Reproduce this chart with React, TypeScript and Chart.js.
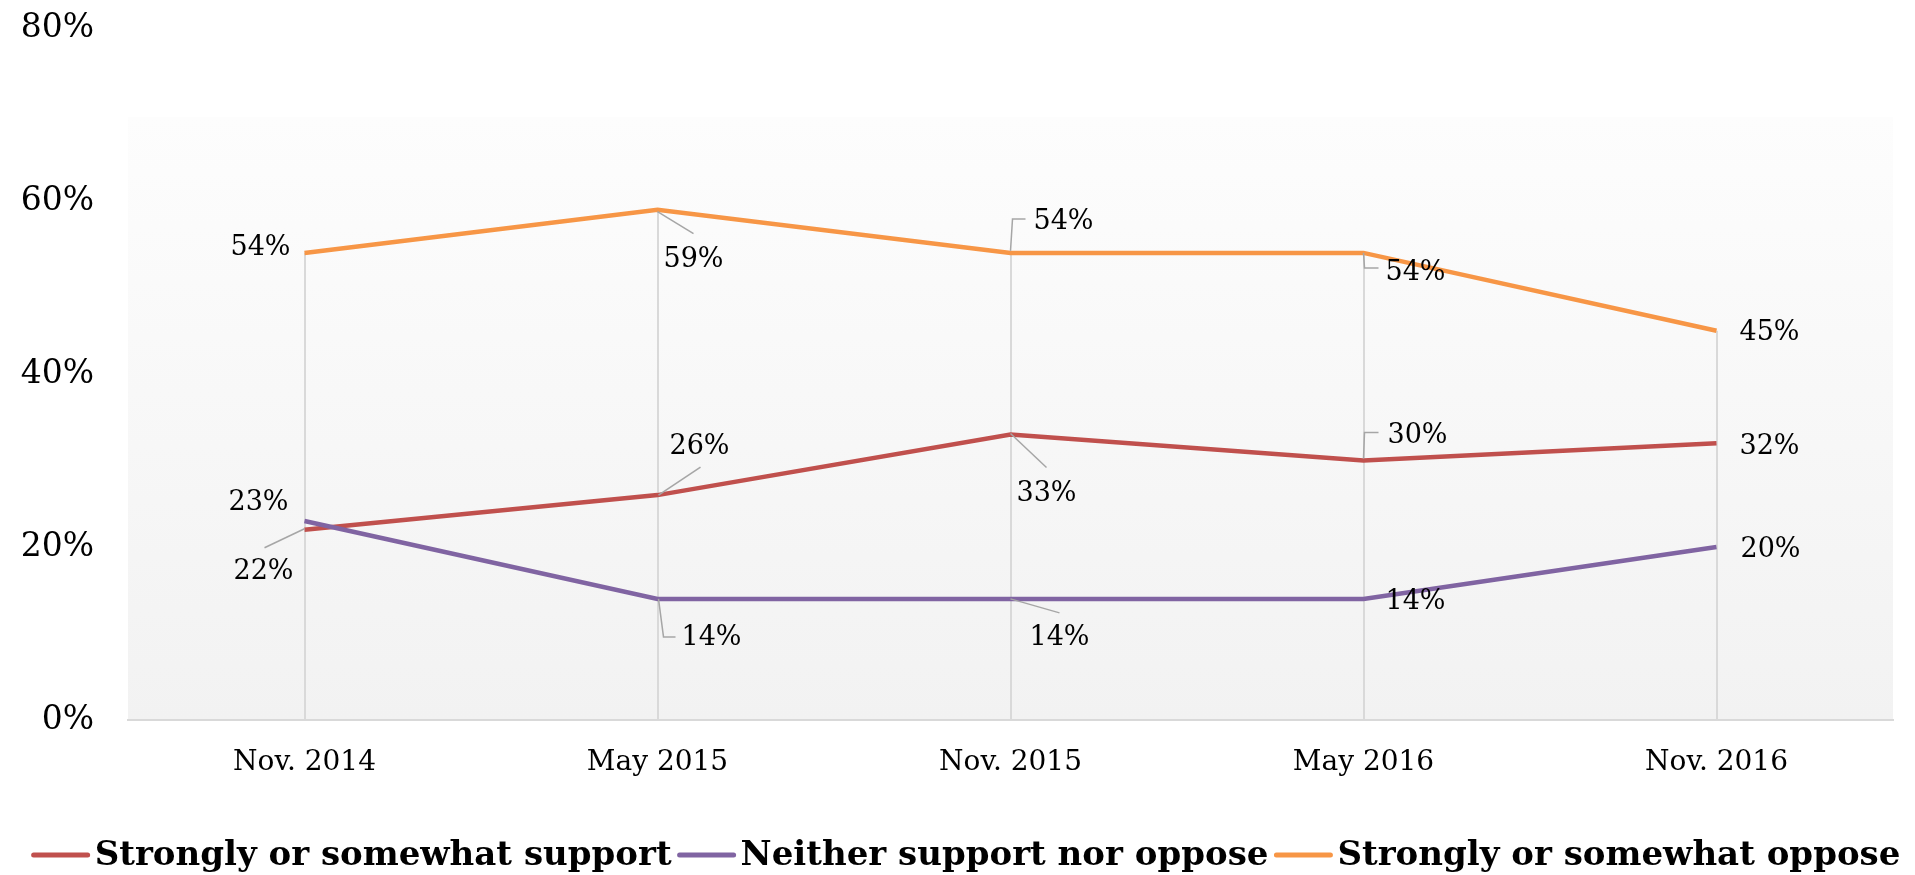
import React, { useEffect, useRef } from "react";
import { Chart, registerables } from "chart.js";

Chart.register(...registerables);

// ---- Data ----
const categories = ["Nov. 2014", "May 2015", "Nov. 2015", "May 2016", "Nov. 2016"];
const supportValues = [22, 26, 33, 30, 32];
const neitherValues = [23, 14, 14, 14, 20];
const opposeValues = [54, 59, 54, 54, 45];
const yTickValues = [0, 20, 40, 60, 80];
const seriesNames = [
  "Strongly or somewhat support",
  "Neither support nor oppose",
  "Strongly or somewhat oppose",
];
const seriesColors = ["#c0504d", "#8064a2", "#f79646"];

// ---- Label placement (style only: offsets from each point) ----
type Placement = { dx: number; dy: number; leader?: number[][] };
const labelPlacements: Placement[][] = [
  [
    { dx: -41, dy: 42, leader: [[0, -1], [-40, 18]] },
    { dx: 42, dy: -48, leader: [[1, 0], [43, -28]] },
    { dx: 36, dy: 59, leader: [[0, -1], [36, 33]] },
    { dx: 54, dy: -25, leader: [[0, -2], [1, -28], [15, -28]] },
    { dx: 53, dy: 4 },
  ],
  [
    { dx: -46, dy: -18 },
    { dx: 54, dy: 39, leader: [[1, 0], [6, 38], [18, 38]] },
    { dx: 49, dy: 39, leader: [[0, 0], [49, 14]] },
    { dx: 52, dy: 3 },
    { dx: 54, dy: 3 },
  ],
  [
    { dx: -44, dy: -5 },
    { dx: 36, dy: 50, leader: [[0, 2], [36, 24]] },
    { dx: 53, dy: -31, leader: [[0, -2], [2, -34], [15, -34]] },
    { dx: 52, dy: 20, leader: [[0, 0], [1, 15], [15, 15]] },
    { dx: 53, dy: 2 },
  ],
];

const FONT = "'DejaVu Serif', 'Liberation Serif', serif";

const backgroundPlugin = {
  id: "plotBackground",
  beforeDraw(chart: any) {
    const { ctx, chartArea } = chart;
    const top = chartArea.top + 89;
    const g = ctx.createLinearGradient(0, top, 0, chartArea.bottom);
    g.addColorStop(0, "#fdfdfd");
    g.addColorStop(1, "#f2f2f2");
    ctx.save();
    ctx.fillStyle = g;
    ctx.fillRect(chartArea.left, top, chartArea.right - chartArea.left, chartArea.bottom - top);
    ctx.restore();
  },
};

const dropLinesPlugin = {
  id: "dropLines",
  beforeDatasetsDraw(chart: any) {
    const { ctx, chartArea } = chart;
    const xs = chart.scales.x;
    const ys = chart.scales.y;
    ctx.save();
    ctx.strokeStyle = "#d9d9d9";
    ctx.lineWidth = 2;
    categories.forEach((_, i) => {
      const maxV = Math.max(...chart.data.datasets.map((d: any) => d.data[i]));
      const x = Math.round(xs.getPixelForValue(i));
      ctx.beginPath();
      ctx.moveTo(x, ys.getPixelForValue(maxV));
      ctx.lineTo(x, chartArea.bottom);
      ctx.stroke();
    });
    ctx.restore();
  },
};

const dataLabelsPlugin = {
  id: "dataLabels",
  afterDatasetsDraw(chart: any) {
    const { ctx } = chart;
    ctx.save();
    chart.data.datasets.forEach((ds: any, di: number) => {
      const meta = chart.getDatasetMeta(di);
      meta.data.forEach((pt: any, i: number) => {
        const p = labelPlacements[di][i];
        if (p.leader) {
          ctx.strokeStyle = "#a6a6a6";
          ctx.lineWidth = 1.5;
          ctx.beginPath();
          p.leader.forEach((q, k) => {
            if (k === 0) ctx.moveTo(pt.x + q[0], pt.y + q[1]);
            else ctx.lineTo(pt.x + q[0], pt.y + q[1]);
          });
          ctx.stroke();
        }
        ctx.fillStyle = "#000";
        ctx.font = `27px ${FONT}`;
        ctx.textAlign = "center";
        ctx.textBaseline = "middle";
        ctx.fillText(ds.data[i] + "%", pt.x + p.dx, pt.y + p.dy);
      });
    });
    ctx.restore();
  },
};

const legendPlugin = {
  id: "customLegend",
  afterDraw(chart: any) {
    const { ctx } = chart;
    ctx.save();
    ctx.font = `bold 34px ${FONT}`;
    const lineLen = 60;
    const gap = 4;
    const itemGap = 5;
    const widths = seriesNames.map((n) => ctx.measureText(n).width);
    const total =
      widths.reduce((a, w) => a + lineLen + gap + w, 0) + itemGap * (seriesNames.length - 1);
    let x = chart.width / 2 + 8 - total / 2;
    const y = 855;
    seriesNames.forEach((name, i) => {
      ctx.strokeStyle = seriesColors[i];
      ctx.lineWidth = 5;
      ctx.lineCap = "round";
      ctx.beginPath();
      ctx.moveTo(x + 3, y);
      ctx.lineTo(x + lineLen - 3, y);
      ctx.stroke();
      x += lineLen + gap;
      ctx.fillStyle = "#000";
      ctx.textAlign = "left";
      ctx.textBaseline = "middle";
      ctx.fillText(name, x, y + 1);
      x += widths[i] + itemGap;
    });
    ctx.restore();
  },
};

export default function App() {
  const canvasRef = useRef<HTMLCanvasElement | null>(null);

  useEffect(() => {
    document.body.style.margin = "0";
    const canvas = canvasRef.current;
    if (!canvas) return;
    const chart = new Chart(canvas, {
      type: "line",
      data: {
        labels: categories,
        datasets: [
          { label: seriesNames[0], data: supportValues, borderColor: seriesColors[0], backgroundColor: seriesColors[0], order: 1 },
          { label: seriesNames[1], data: neitherValues, borderColor: seriesColors[1], backgroundColor: seriesColors[1], order: 0 },
          { label: seriesNames[2], data: opposeValues, borderColor: seriesColors[2], backgroundColor: seriesColors[2], order: 2 },
        ],
      },
      options: {
        responsive: false,
        animation: false,
        devicePixelRatio: 1,
        layout: { padding: { top: 28, right: 22, left: 0, bottom: 0 } },
        plugins: { legend: { display: false }, tooltip: { enabled: false } },
        elements: {
          point: { radius: 0, hoverRadius: 0 },
          line: { borderWidth: 4.5, tension: 0, fill: false },
        },
        scales: {
          x: {
            type: "category",
            offset: true,
            grid: { display: false, drawTicks: false },
            border: { display: true, color: "#d9d9d9", width: 2 },
            ticks: {
              font: { family: FONT, size: 28 },
              color: "#000",
              padding: 26,
              maxRotation: 0,
              autoSkip: false,
            },
            afterFit(s: any) {
              s.height = 155;
              s.paddingLeft = 0;
              s.paddingRight = 0;
            },
          },
          y: {
            min: 0,
            max: 80,
            grid: { display: false, drawTicks: false },
            border: { display: false },
            ticks: {
              font: { family: FONT, size: 33 },
              color: "#000",
              padding: 34,
              callback: (v: any) => v + "%",
            },
            afterBuildTicks(s: any) {
              s.ticks = yTickValues.map((v) => ({ value: v }));
            },
            afterFit(s: any) {
              s.width = 128;
              s.paddingTop = 0;
              s.paddingBottom = 0;
            },
          },
        },
      },
      plugins: [backgroundPlugin, dropLinesPlugin, dataLabelsPlugin, legendPlugin],
    } as any);
    return () => chart.destroy();
  }, []);

  return (
    <div style={{ width: 1915, height: 875, background: "#fff" }}>
      <canvas ref={canvasRef} width={1915} height={875} style={{ display: "block" }} />
    </div>
  );
}
